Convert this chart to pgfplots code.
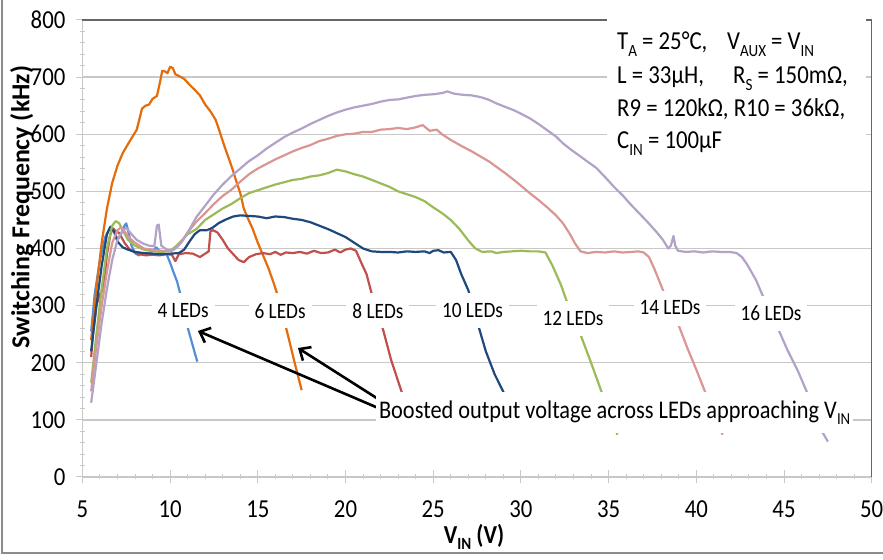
\documentclass[border=0pt]{standalone}
\usepackage{fontspec}
\setmainfont{Carlito}[FakeStretch=0.88]
\newfontfamily\ylabfont{Carlito}
\usepackage{graphicx}
\usepackage{pgfplots}
\pgfplotsset{compat=1.18}
\usetikzlibrary{arrows.meta}
\definecolor{cLB}{RGB}{85,142,213}
\definecolor{cOR}{RGB}{228,108,10}
\definecolor{cRD}{RGB}{192,80,77}
\definecolor{cDB}{RGB}{31,73,125}
\definecolor{cGR}{RGB}{155,187,89}
\definecolor{cPK}{RGB}{217,150,148}
\definecolor{cLV}{RGB}{179,162,199}
\definecolor{gridc}{RGB}{200,200,200}
\newcommand{\sub}[1]{\raisebox{-0.25em}{\scalebox{0.66}{#1}}}
\begin{document}
\begin{tikzpicture}[x=1bp,y=1bp]
\path[use as bounding box] (0,0) rectangle (883,560);
\begin{axis}[at={(82.4bp,83bp)}, anchor=south west, scale only axis,
  width=789.3bp, height=457bp,
  xmin=5, xmax=50, ymin=0, ymax=800,
  xtick={5,10,...,50}, ytick={0,100,...,800},
  minor x tick num=4, minor y tick num=4,
  axis x line*=bottom, axis y line*=left,
  axis line style={draw=gridc, line width=1.2bp, -},
  ymajorgrids, grid style={draw=gridc, line width=1.3bp},
  tick style={draw=gridc, line width=1bp},
  major tick length=13bp, minor tick length=5bp, tick align=center,
  ticklabel style={font=\fontsize{26}{30}\selectfont},
  xticklabel style={yshift=-14bp},
  yticklabel style={xshift=-7bp},
  /pgf/number format/assume math mode=true,
  clip=false,
  every axis plot/.append style={line width=2.2bp, line join=round, no markers},
]
\addplot[cLB] coordinates {(5.5,255) (5.7,320) (6.0,380) (6.3,420) (6.6,438) (6.8,432) (7.0,415) (7.2,425) (7.4,440) (7.5,444) (7.6,432) (7.8,405) (8.0,392) (8.2,388) (8.5,392) (8.8,390) (9.0,395) (9.2,402) (9.4,396) (9.6,392) (9.8,390) (10.0,375) (10.2,358) (10.4,342) (10.6,318) (10.8,290) (11.0,262) (11.2,240) (11.4,218) (11.55,202)};
\addplot[cOR] coordinates {(5.5,240) (5.8,330) (6.1,410) (6.4,470) (6.7,515) (7.0,545) (7.3,567) (7.7,588) (8.1,608) (8.4,645) (8.6,650) (8.8,652) (9.0,662) (9.25,667) (9.45,695) (9.55,711) (9.7,710) (9.85,707) (10.0,718) (10.15,716) (10.3,705) (10.5,702) (10.8,697) (11.1,687) (11.4,678) (11.7,668) (12.0,652) (12.3,640) (12.6,625) (12.8,607) (13.0,588) (13.2,570) (13.4,553) (13.6,535) (13.8,515) (14.0,497) (14.2,470) (14.4,455) (14.7,435) (15.0,410) (15.3,388) (15.6,366) (15.9,340) (16.2,312) (16.5,275) (16.8,238) (17.1,200) (17.5,152)};
\addplot[cRD] coordinates {(5.5,210) (5.6,250) (5.8,300) (6.0,320) (6.2,330) (6.4,390) (6.6,425) (6.75,435) (6.9,430) (7.1,427) (7.4,410) (7.7,398) (8.0,393) (8.3,390) (8.6,388) (9.0,389) (9.4,388) (9.8,390) (10.1,389) (10.3,378) (10.5,390) (10.9,392) (11.3,391) (11.7,385) (12.0,391) (12.2,395) (12.3,430) (12.45,432) (12.7,428) (13.0,415) (13.3,400) (13.6,390) (13.9,380) (14.2,376) (14.5,385) (14.9,390) (15.3,392) (15.7,390) (16.0,394) (16.3,389) (16.6,393) (17.0,392) (17.4,394) (17.8,391) (18.2,396) (18.6,392) (19.0,393) (19.4,398) (19.7,393) (20.0,398) (20.3,400) (20.6,396) (20.9,375) (21.2,355) (21.5,320) (21.8,290) (22.15,257) (22.6,205) (23.2,149) (23.3,140)};
\addplot[cDB] coordinates {(5.5,220) (5.8,300) (6.1,370) (6.4,425) (6.6,438) (6.8,430) (7.0,412) (7.3,402) (7.6,398) (8.0,394) (8.5,392) (9.0,391) (9.5,390) (10.0,391) (10.5,392) (10.8,398) (11.1,412) (11.4,425) (11.7,432) (12.1,432) (12.4,436) (12.8,445) (13.2,451) (13.6,456) (14.0,458) (14.5,457) (15.0,456) (15.5,453) (16.0,456) (16.5,455) (17.0,452) (17.5,450) (18.0,446) (18.5,440) (19.0,434) (19.5,427) (20.0,420) (20.5,410) (21.0,400) (21.5,395) (22.0,394) (22.5,394) (23.0,393) (23.5,395) (24.0,394) (24.5,395) (24.8,392) (25.0,396) (25.3,397) (25.6,393) (26.0,394) (26.3,380) (26.6,355) (27.0,327) (27.3,295) (27.6,262) (28.0,220) (28.5,180) (29.0,149) (29.1,140)};
\addplot[cGR] coordinates {(5.5,165) (5.8,250) (6.1,330) (6.4,400) (6.7,440) (6.9,448) (7.1,444) (7.3,432) (7.6,415) (8.0,405) (8.5,398) (9.0,395) (9.5,394) (10.0,396) (10.3,403) (10.6,412) (11.0,425) (11.5,434) (12.0,450) (12.5,460) (13.0,470) (13.5,478) (14.0,488) (14.5,497) (15.0,502) (15.5,507) (16.0,512) (16.5,516) (17.0,520) (17.5,522) (18.0,526) (18.5,528) (19.0,532) (19.5,538) (20.0,535) (20.5,530) (21.0,526) (21.5,520) (22.0,514) (22.5,508) (23.0,500) (23.5,495) (24.0,490) (24.5,483) (25.0,472) (25.5,462) (26.0,450) (26.5,434) (27.0,414) (27.4,400) (27.8,394) (28.3,395) (28.6,392) (29.0,394) (29.5,395) (30.0,396) (30.5,395) (31.0,395) (31.4,393) (31.8,370) (32.3,335) (32.7,300) (33.1,270) (33.4,249) (34.0,200) (34.6,149) (35.2,100) (35.5,74)};
\addplot[cPK] coordinates {(5.5,150) (5.8,230) (6.1,300) (6.4,360) (6.7,410) (7.0,432) (7.2,437) (7.4,430) (7.7,418) (8.0,410) (8.5,400) (9.0,398) (9.5,396) (10.0,395) (10.3,400) (10.6,410) (11.0,428) (11.5,447) (12.0,462) (12.5,478) (13.0,492) (13.5,503) (14.0,517) (14.5,530) (15.0,540) (15.5,548) (16.0,556) (16.5,563) (17.0,570) (17.5,576) (18.0,581) (18.5,588) (19.0,592) (19.5,597) (20.0,600) (20.5,601) (21.0,604) (21.5,604) (22.0,608) (22.5,609) (23.0,611) (23.5,609) (24.0,612) (24.4,616) (24.8,606) (25.2,608) (25.5,600) (26.0,590) (26.7,578) (27.2,570) (27.7,561) (28.2,552) (28.6,543) (29.1,532) (29.6,520) (30.0,510) (30.5,497) (31.0,485) (31.5,472) (32.0,458) (32.4,444) (32.8,425) (33.1,408) (33.4,395) (33.8,392) (34.3,394) (34.8,393) (35.3,395) (35.8,393) (36.3,394) (36.7,395) (37.0,393) (37.3,385) (37.6,365) (38.1,327) (38.5,295) (39.0,265) (39.5,225) (40.0,188) (40.5,149) (41.0,110) (41.5,74)};
\addplot[cLV] coordinates {(5.5,130) (5.8,200) (6.1,270) (6.4,330) (6.7,380) (7.0,415) (7.3,432) (7.5,436) (7.8,425) (8.1,415) (8.5,408) (8.8,405) (9.1,404) (9.25,440) (9.35,442) (9.5,405) (9.8,398) (10.1,396) (10.4,402) (10.7,413) (11.0,428) (11.5,455) (12.0,475) (12.5,495) (13.0,512) (13.5,527) (14.0,540) (14.5,553) (15.0,563) (15.5,575) (16.0,585) (16.5,595) (17.0,603) (17.5,610) (18.0,618) (18.5,625) (19.0,632) (19.5,638) (20.0,643) (20.5,647) (21.0,650) (21.5,653) (22.0,657) (22.5,660) (23.0,661) (23.5,664) (24.0,667) (24.5,669) (25.0,670) (25.5,672) (25.8,675) (26.2,671) (26.7,669) (27.2,668) (27.7,665) (28.2,660) (28.6,654) (29.1,648) (29.6,642) (30.0,636) (30.5,628) (31.0,618) (31.5,607) (32.0,596) (32.4,584) (32.9,572) (33.4,561) (33.8,552) (34.3,541) (34.8,525) (35.3,508) (35.8,493) (36.2,479) (36.7,463) (37.2,447) (37.7,430) (38.1,415) (38.4,400) (38.55,405) (38.7,422) (38.8,405) (38.95,396) (39.4,394) (39.9,395) (40.4,393) (40.9,395) (41.4,394) (41.9,394) (42.3,392) (42.6,385) (42.9,372) (43.4,345) (43.75,320) (44.2,290) (44.7,257) (45.2,222) (45.8,185) (46.3,149) (46.8,115) (47.2,78) (47.5,62)};
% LED labels
\begin{scope}[every node/.style={fill=white, inner xsep=6bp, inner ysep=0bp, minimum height=35bp, font=\fontsize{22}{25}\selectfont}]
\node at (axis cs:10.74,290.6) {4 LEDs};
\node at (axis cs:16.27,290.6) {6 LEDs};
\node at (axis cs:21.85,290.6) {8 LEDs};
\node at (axis cs:27.24,292.3) {10 LEDs};
\node at (axis cs:32.97,278.3) {12 LEDs};
\node at (axis cs:38.5,295.8) {14 LEDs};
\node at (axis cs:44.26,287) {16 LEDs};
\end{scope}
\draw[black, line width=2.6bp, -{Straight Barb[length=9bp,width=16bp]}] (axis cs:22.13,117.3) -- (axis cs:11.59,255.6);
\draw[black, line width=2.6bp, -{Straight Barb[length=9bp,width=16bp]}] (axis cs:22.13,131.3) -- (axis cs:17.29,225.8);
\node[fill=white, anchor=west, inner xsep=3bp, inner ysep=0bp, minimum height=41bp, font=\fontsize{25.5}{29}\selectfont] at (axis cs:21.73,112.9) {Boosted output voltage across LEDs approaching V\sub{IN}};
\end{axis}
% plot border top/right
\draw[black!60, line width=1.3bp] (82.4,540) -- (871.7,540) -- (871.7,83);
% outer frame
\draw[black!45, line width=1.5bp] (2,560) -- (2,7) -- (883,7);
% annotation box
\fill[white] (607,390) rectangle (866,552);
\begin{scope}[every node/.style={anchor=base west, inner sep=0pt, font=\fontsize{26}{30}\selectfont}]
\node at (617,510) {T\sub{A} = 25°C,};
\node at (727,510) {V\sub{AUX} = V\sub{IN}};
\node at (617,476) {L = 33µH,};
\node at (733,476) {R\sub{S} = 150mΩ,};
\node at (617,443) {R9 = 120kΩ, R10 = 36kΩ,};
\node at (617,411) {C\sub{IN} = 100µF};
\end{scope}
% axis titles
\node[rotate=90, font=\ylabfont\bfseries\fontsize{26}{30}\selectfont] at (22,353) {Switching Frequency (kHz)};
\node[font=\bfseries\fontsize{26}{30}\selectfont] at (474,23) {V\sub{IN} (V)};
\end{tikzpicture}
\end{document}
